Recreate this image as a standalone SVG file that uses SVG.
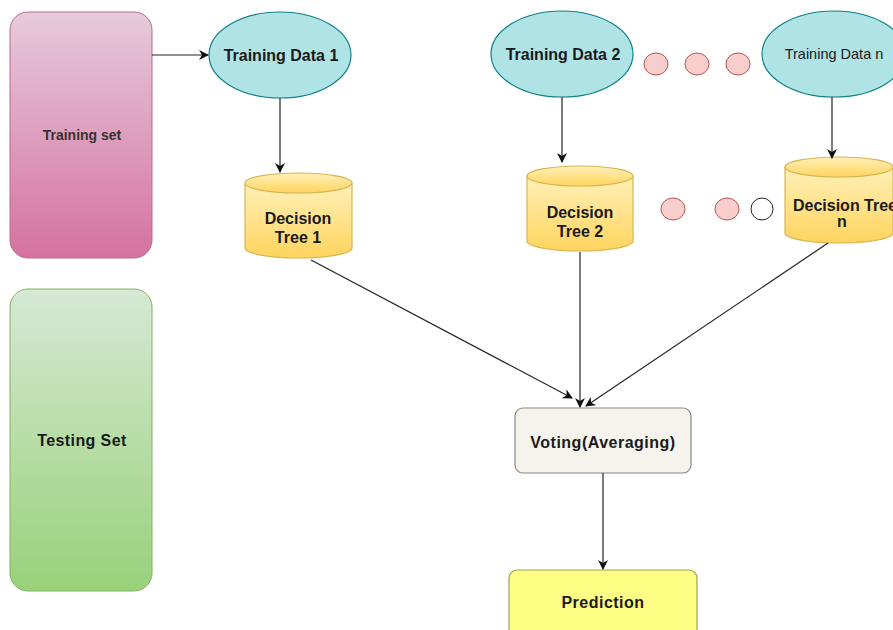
<svg xmlns="http://www.w3.org/2000/svg" width="893" height="630" viewBox="0 0 893 630">
<style>
text{font-family:"Liberation Sans",Arial,sans-serif;font-weight:bold;fill:#1a1a1a;text-anchor:middle}
text.reg{font-weight:normal}
.ell{fill:#b0e3e6;stroke:#0e8088;stroke-width:1.2}
.cyl{fill:url(#gy);stroke:#d6b656;stroke-width:1.2}
.dot{fill:#f8cecc;stroke:#b85450;stroke-width:1}
.conn{stroke:#222;stroke-width:1.2;fill:none;marker-end:url(#ah)}
</style>
<defs>
<linearGradient id="gp" x1="0" y1="0" x2="0" y2="1"><stop offset="0" stop-color="#e6cbdb"/><stop offset="1" stop-color="#d5729e"/></linearGradient>
<linearGradient id="gg" x1="0" y1="0" x2="0" y2="1"><stop offset="0" stop-color="#d6e9d4"/><stop offset="1" stop-color="#99d17a"/></linearGradient>
<linearGradient id="gy" x1="0" y1="0" x2="0" y2="1"><stop offset="0" stop-color="#fff0b8"/><stop offset="1" stop-color="#ffd45e"/></linearGradient>
<marker id="ah" markerWidth="10" markerHeight="10" refX="9" refY="5" orient="auto" markerUnits="userSpaceOnUse"><path d="M0,0 L10,5 L0,10 L3,5 Z" fill="#111"/></marker>
</defs>
<rect width="893" height="630" fill="#fff"/>
<g id="training-set"><rect x="10" y="12" width="142" height="246" rx="18" fill="url(#gp)" stroke="#b46c8f" stroke-width="1"/><text x="82" y="140" font-size="14" style="fill:#333">Training set</text></g>
<g id="testing-set"><rect x="10" y="289" width="142" height="302" rx="18" fill="url(#gg)" stroke="#82b366" stroke-width="1"/><text x="82" y="446" font-size="16" letter-spacing="0.4">Testing Set</text></g>
<g id="td1"><ellipse class="ell" cx="280" cy="55" rx="71" ry="43"/><text x="281" y="61" font-size="16">Training Data 1</text></g>
<g id="td2"><ellipse class="ell" cx="562" cy="54" rx="71" ry="43"/><text x="563" y="60" font-size="16">Training Data 2</text></g>
<g id="tdn"><ellipse class="ell" cx="834" cy="54" rx="72" ry="43"/><text class="reg" x="834" y="59" font-size="14.5">Training Data n</text></g>
<g id="dots1"><ellipse class="dot" cx="656" cy="64" rx="12" ry="11"/><ellipse class="dot" cx="697" cy="64" rx="12" ry="11"/><ellipse class="dot" cx="738" cy="64" rx="12" ry="11"/></g>
<g id="dt1"><path class="cyl" d="M245,183 L245,248 A53.5,10 0 0 0 352,248 L352,183"/><ellipse class="cyl" cx="298.5" cy="183" rx="53.5" ry="10"/><text x="298" y="224" font-size="16">Decision</text><text x="298" y="243" font-size="16">Tree 1</text></g>
<g id="dt2"><path class="cyl" d="M527,176 L527,241 A53,10 0 0 0 633,241 L633,176"/><ellipse class="cyl" cx="580" cy="176" rx="53" ry="10"/><text x="580" y="218" font-size="16">Decision</text><text x="580" y="237" font-size="16">Tree 2</text></g>
<g id="dtn"><path class="cyl" d="M785,167 L785,233 A54,10 0 0 0 893,233 L893,167"/><ellipse class="cyl" cx="839" cy="167" rx="54" ry="10"/><text x="845" y="211" font-size="16">Decision Tree</text><text x="842" y="227" font-size="16">n</text></g>
<g id="dots2"><ellipse class="dot" cx="673" cy="209" rx="12" ry="11"/><ellipse class="dot" cx="727" cy="209" rx="12" ry="11"/><ellipse cx="762" cy="209" rx="11" ry="11" fill="#fff" stroke="#222" stroke-width="1"/></g>
<g id="voting"><rect x="515" y="408" width="176" height="65" rx="8" fill="#f5f3eb" stroke="#888" stroke-width="1.2"/><text x="603" y="448" font-size="16" letter-spacing="0.5">Voting(Averaging)</text></g>
<g id="prediction"><rect x="509" y="570" width="188" height="70" rx="8" fill="#fefe84" stroke="#a0a050" stroke-width="1.2"/><text x="603" y="608" font-size="16" letter-spacing="0.5">Prediction</text></g>
<g id="connectors">
<line class="conn" x1="152" y1="55" x2="208" y2="55"/>
<line class="conn" x1="280" y1="98" x2="280" y2="172"/>
<line class="conn" x1="562" y1="97" x2="562" y2="162"/>
<line class="conn" x1="832" y1="97" x2="832" y2="158"/>
<line class="conn" x1="311" y1="260" x2="572" y2="398"/>
<line class="conn" x1="580" y1="252" x2="580" y2="407"/>
<line class="conn" x1="828" y1="243" x2="586" y2="406"/>
<line class="conn" x1="603" y1="473" x2="603" y2="569"/>
</g>
</svg>
